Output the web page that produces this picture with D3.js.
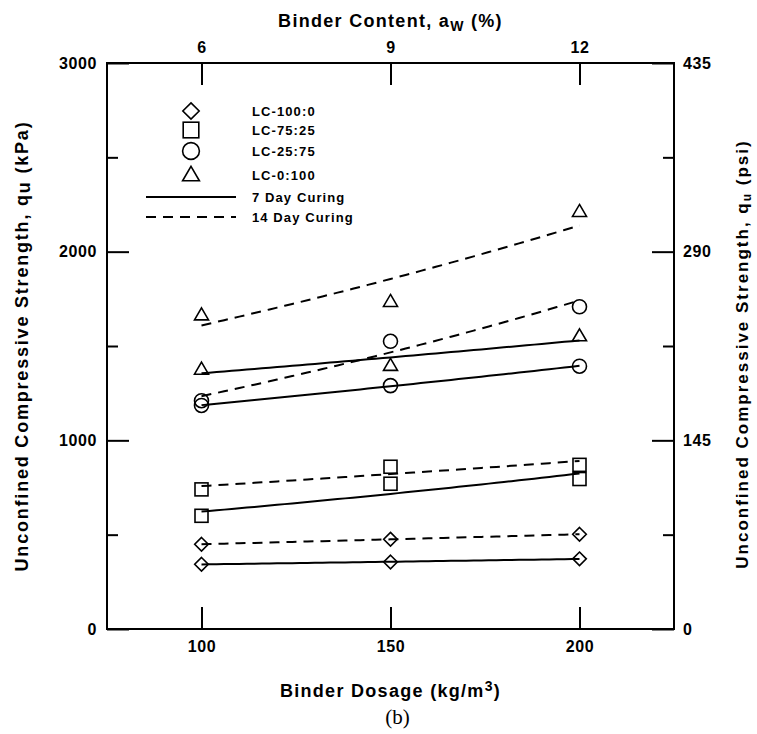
<!DOCTYPE html>
<html>
<head>
<meta charset="utf-8">
<script src="https://cdn.jsdelivr.net/npm/d3@7"></script>
<style>
  html, body { margin: 0; padding: 0; background: #fff; }
  svg { display: block; }
  text { font-family: "Liberation Sans", Arial, Helvetica, sans-serif; font-weight: bold; fill: #000; }
</style>
</head>
<body>
<svg id="chart" width="757" height="734"></svg>
<script>
// Binder dosage (kg/m^3) tested for each mix
const dosage = [100, 150, 200];
// Binder content a_w (%) matching each dosage (top axis)
const binderContent = [6, 9, 12];

// Mixes (lime-cement ratio) and their legend labels
const mixes = ["LC-100:0", "LC-75:25", "LC-25:75", "LC-0:100"];
const mixSymbols = ["diamond", "square", "circle", "triangle"];

// Unconfined compressive strength q_u (kPa), 7 day curing
const q7_LC100_0 = [343, 355, 372];
const q7_LC75_25 = [600, 770, 795];
const q7_LC25_75 = [1185, 1290, 1393];
const q7_LC0_100 = [1376, 1396, 1553];

// Unconfined compressive strength q_u (kPa), 14 day curing
const q14_LC100_0 = [449, 476, 502];
const q14_LC75_25 = [740, 860, 870];
const q14_LC25_75 = [1210, 1525, 1708];
const q14_LC0_100 = [1664, 1735, 2212];

// Axis ticks
const kpaMajor = [0, 1000, 2000, 3000];
const kpaMinor = [500, 1500, 2500];
const psiMajor = [0, 145, 290, 435];
const psiMinor = [72.5, 217.5, 362.5];

const series = [
  { mix: 0, curing: 7, values: q7_LC100_0 },
  { mix: 1, curing: 7, values: q7_LC75_25 },
  { mix: 2, curing: 7, values: q7_LC25_75 },
  { mix: 3, curing: 7, values: q7_LC0_100 },
  { mix: 0, curing: 14, values: q14_LC100_0 },
  { mix: 1, curing: 14, values: q14_LC75_25 },
  { mix: 2, curing: 14, values: q14_LC25_75 },
  { mix: 3, curing: 14, values: q14_LC0_100 }
];

const svg = d3.select("#chart");
const L = 107, R = 674, T = 63, B = 629;

const x = d3.scaleLinear().domain([75, 225]).range([L, R]);
const xTop = d3.scaleLinear()
  .domain([binderContent[0] - (binderContent[1] - binderContent[0]) / 2,
           binderContent[2] + (binderContent[1] - binderContent[0]) / 2])
  .range([L, R]);
const y = d3.scaleLinear().domain([0, 3000]).range([B, T]);
const yPsi = d3.scaleLinear().domain([0, 435]).range([B, T]);

const MAJ = 22, MIN = 11;

// frame
svg.append("rect").attr("x", L).attr("y", T).attr("width", R - L).attr("height", B - T)
  .attr("fill", "none").attr("stroke", "#000").attr("stroke-width", 2);

function styleAxis(g) {
  g.select(".domain").remove();
  g.selectAll(".tick line").attr("stroke", "#000").attr("stroke-width", 2);
  g.selectAll(".tick text")
    .style("font-size", "16px")
    .style("letter-spacing", "0.6px")
    .style("font-family", "'Liberation Sans', Arial, sans-serif")
    .style("font-weight", "bold");
}

// bottom axis
svg.append("g").attr("transform", `translate(0,${B})`)
  .call(d3.axisBottom(x).tickValues(dosage).tickSizeInner(-MAJ).tickSizeOuter(0).tickPadding(12))
  .call(styleAxis);
// top axis
svg.append("g").attr("transform", `translate(0,${T})`)
  .call(d3.axisTop(xTop).tickValues(binderContent).tickSizeInner(-MAJ).tickSizeOuter(0).tickPadding(10))
  .call(styleAxis);
// left axis
svg.append("g").attr("transform", `translate(${L},0)`)
  .call(d3.axisLeft(y).tickValues(kpaMajor).tickFormat(d3.format("d")).tickSizeInner(-MAJ).tickSizeOuter(0).tickPadding(10))
  .call(styleAxis);
svg.append("g").attr("transform", `translate(${L},0)`)
  .call(d3.axisLeft(y).tickValues(kpaMinor).tickFormat("").tickSizeInner(-MIN).tickSizeOuter(0))
  .call(styleAxis);
// right axis
svg.append("g").attr("transform", `translate(${R},0)`)
  .call(d3.axisRight(yPsi).tickValues(psiMajor).tickFormat(d3.format("d")).tickSizeInner(-MAJ).tickSizeOuter(0).tickPadding(9))
  .call(styleAxis);
svg.append("g").attr("transform", `translate(${R},0)`)
  .call(d3.axisRight(yPsi).tickValues(psiMinor).tickFormat("").tickSizeInner(-MIN).tickSizeOuter(0))
  .call(styleAxis);

// exponential trend fit (least squares on ln q_u)
function expFit(xs, ys) {
  const lx = d3.mean(xs), ly = d3.mean(ys, v => Math.log(v));
  let sxy = 0, sxx = 0;
  xs.forEach((xi, i) => { sxy += (xi - lx) * (Math.log(ys[i]) - ly); sxx += (xi - lx) ** 2; });
  const b = sxy / sxx;
  return t => Math.exp(ly + b * (t - lx));
}

const line = d3.line().x(d => x(d[0])).y(d => y(d[1]));
const xs = d3.range(dosage[0], dosage[2] + 0.001, 2);

series.forEach(s => {
  const f = expFit(dosage, s.values);
  svg.append("path")
    .attr("d", line(xs.map(t => [t, f(t)])))
    .attr("fill", "none").attr("stroke", "#000").attr("stroke-width", 2)
    .attr("stroke-dasharray", s.curing === 14 ? "10,7" : null);
});

// marker shapes
function marker(g, kind, cx, cy, scale) {
  const k = scale || 1;
  if (kind === "diamond") {
    const r = 6.8 * k;
    g.append("path").attr("d", `M${cx},${cy - r}L${cx + r},${cy}L${cx},${cy + r}L${cx - r},${cy}Z`);
  } else if (kind === "square") {
    const h = 6.5 * k;
    g.append("rect").attr("x", cx - h).attr("y", cy - h).attr("width", 2 * h).attr("height", 2 * h);
  } else if (kind === "circle") {
    g.append("circle").attr("cx", cx).attr("cy", cy).attr("r", 7 * k);
  } else {
    const w = 7 * k, h = 12 * k;
    g.append("path").attr("d", `M${cx},${cy - h * 0.6}L${cx + w},${cy + h * 0.4}L${cx - w},${cy + h * 0.4}Z`);
  }
}

const markers = svg.append("g").attr("fill", "none").attr("stroke", "#000").attr("stroke-width", 1.6);
series.forEach(s => {
  s.values.forEach((v, i) => marker(markers, mixSymbols[s.mix], x(dosage[i]), y(v)));
});

// legend
const lg = svg.append("g");
const legX = 191, legTextX = 252, legYs = [111, 130, 151, 175, 197, 217];
mixes.forEach((m, i) => {
  const yy = legYs[i];
  marker(lg.append("g").attr("fill", "none").attr("stroke", "#000").attr("stroke-width", 1.6),
         mixSymbols[i], legX, yy, 1.2);
  lg.append("text").attr("x", legTextX).attr("y", yy).attr("dy", "0.36em")
    .style("font-size", "13px").style("letter-spacing", "1.1px").text(m);
});
[["7 Day Curing", null], ["14 Day Curing", "10,7"]].forEach((d, i) => {
  const yy = legYs[4 + i];
  lg.append("line").attr("x1", 146).attr("x2", 236).attr("y1", yy).attr("y2", yy)
    .attr("stroke", "#000").attr("stroke-width", 2).attr("stroke-dasharray", d[1]);
  lg.append("text").attr("x", legTextX).attr("y", yy).attr("dy", "0.36em")
    .style("font-size", "13px").style("letter-spacing", "1.1px").text(d[0]);
});

// titles
const topTitle = svg.append("text").attr("x", (L + R) / 2).attr("y", 27).attr("text-anchor", "middle")
  .style("font-size", "18px").style("letter-spacing", "1.3px");
topTitle.append("tspan").text("Binder Content, a");
topTitle.append("tspan").attr("dy", 4).style("font-size", "14px").text("W");
topTitle.append("tspan").attr("dy", -4).text(" (%)");

const botTitle = svg.append("text").attr("x", (L + R) / 2).attr("y", 697).attr("text-anchor", "middle")
  .style("font-size", "18px").style("letter-spacing", "1.3px");
botTitle.append("tspan").text("Binder Dosage (kg/m");
botTitle.append("tspan").attr("dy", -6).style("font-size", "14px").text("3");
botTitle.append("tspan").attr("dy", 6).text(")");

svg.append("text").attr("x", (L + R) / 2 + 7).attr("y", 724).attr("text-anchor", "middle")
  .style("font-family", "'Liberation Serif', 'Times New Roman', serif").style("font-weight", "normal")
  .style("font-size", "21px").text("(b)");

const leftTitle = svg.append("text").attr("transform", `translate(28,${(T + B) / 2}) rotate(-90)`)
  .attr("text-anchor", "middle").style("font-size", "18px").style("letter-spacing", "1.8px");
leftTitle.append("tspan").text("Unconfined Compressive Strength, q");
leftTitle.append("tspan").attr("dy", 2).text("u");
leftTitle.append("tspan").attr("dy", -2).text(" (kPa)");

const rightTitle = svg.append("text").attr("transform", `translate(748,${(T + B) / 2 + 8}) rotate(-90)`)
  .attr("text-anchor", "middle").style("font-size", "17px").style("letter-spacing", "2px");
rightTitle.append("tspan").text("Unconfined Compressive Strength, q");
rightTitle.append("tspan").attr("dy", 3).style("font-size", "12px").text("u");
rightTitle.append("tspan").attr("dy", -3).text(" (psi)");
</script>
</body>
</html>
